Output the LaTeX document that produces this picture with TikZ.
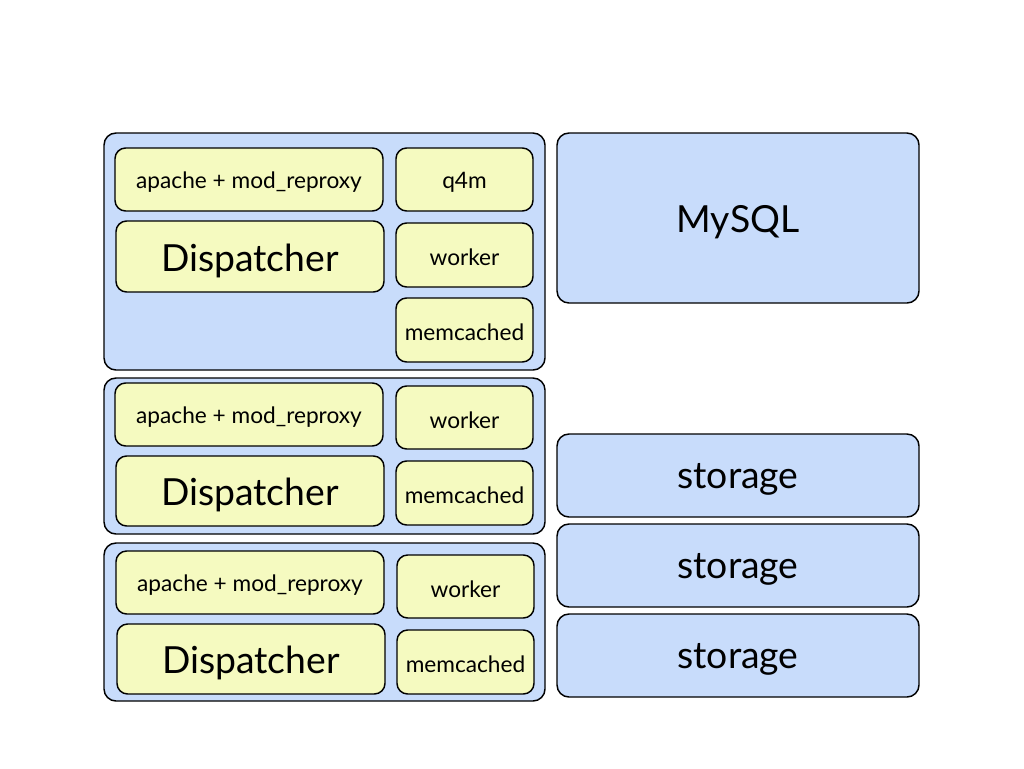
\documentclass[tikz,border=0pt]{standalone}
\usepackage{fontspec}
\setmainfont{Lato}
\usetikzlibrary{fit}

\definecolor{hostblue}{RGB}{200,220,251}
\definecolor{procyellow}{RGB}{245,250,192}

\tikzset{
  host/.style={draw, fill=hostblue, rounded corners=9pt, line width=1.1pt, inner sep=0pt},
  proc/.style={draw, fill=procyellow, rounded corners=8pt, line width=1.1pt, inner sep=0pt},
  small/.style={font=\fontsize{17}{20}\selectfont, yshift=-2pt},
  big/.style={font=\fontsize{28}{32}\selectfont, yshift=-3pt},
}

\begin{document}
\begin{tikzpicture}[x=0.75pt, y=-0.75pt]
            \useasboundingbox[fill=white] (0,0) rectangle (1024,768);

            % Web hosts
            \node[host, fit={(104,133) (545,370)}] (hostA) {};
            \node[host, fit={(104,378) (545,534)}] (hostB) {};
            \node[host, fit={(104,543) (545,701)}] (hostC) {};

            % First host
            \node[proc, fit={(115,148) (383,211)}] (apacheA) {};
            \node[small] at (apacheA.center) {apache + mod\_reproxy};
            \node[proc, fit={(116,221) (384,292)}] (dispA) {};
            \node[big] at (dispA.center) {Dispatcher};
            \node[proc, fit={(396,148) (533,211)}] (qfourm) {};
            \node[small] at (qfourm.center) {q4m};
            \node[proc, fit={(396,223) (533,287)}] (workerA) {};
            \node[small] at (workerA.center) {worker};
            \node[proc, fit={(396,298) (533,362)}] (memA) {};
            \node[small] at (memA.center) {memcached};

            % Second host
            \node[proc, fit={(115,383) (383,446)}] (apacheB) {};
            \node[small] at (apacheB.center) {apache + mod\_reproxy};
            \node[proc, fit={(116,456) (384,526)}] (dispB) {};
            \node[big] at (dispB.center) {Dispatcher};
            \node[proc, fit={(396,386) (533,449)}] (workerB) {};
            \node[small] at (workerB.center) {worker};
            \node[proc, fit={(396,461) (533,525)}] (memB) {};
            \node[small] at (memB.center) {memcached};

            % Third host
            \node[proc, fit={(116,551) (384,614)}] (apacheC) {};
            \node[small] at (apacheC.center) {apache + mod\_reproxy};
            \node[proc, fit={(117,624) (385,694)}] (dispC) {};
            \node[big] at (dispC.center) {Dispatcher};
            \node[proc, fit={(397,555) (534,618)}] (workerC) {};
            \node[small] at (workerC.center) {worker};
            \node[proc, fit={(397,630) (534,694)}] (memC) {};
            \node[small] at (memC.center) {memcached};

            % Database and storage
            \node[host, fit={(557,133) (919,303)}] (mysql) {};
            \node[big] at (mysql.center) {MySQL};
            \node[host, fit={(557,434) (919,517)}] (storA) {};
            \node[big] at (storA.center) {storage};
            \node[host, fit={(557,524) (919,607)}] (storB) {};
            \node[big] at (storB.center) {storage};
            \node[host, fit={(557,614) (919,697)}] (storC) {};
            \node[big] at (storC.center) {storage};
\end{tikzpicture}
\end{document}
